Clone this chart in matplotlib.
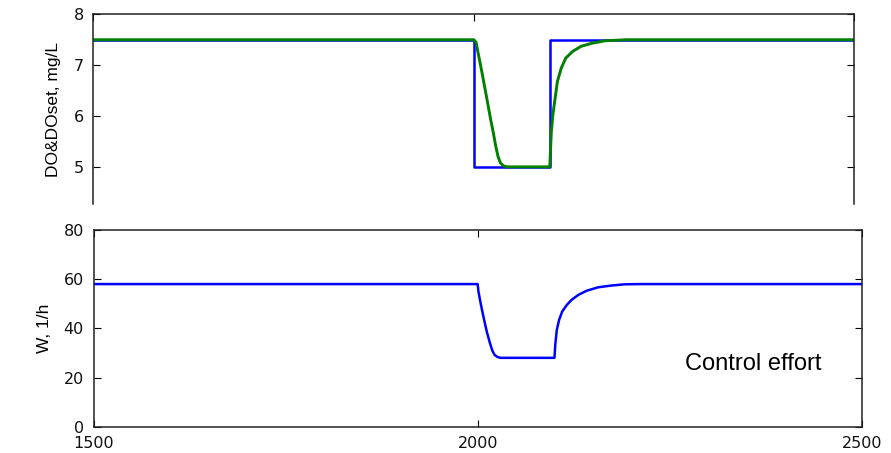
import matplotlib
matplotlib.use("Agg")
import matplotlib.pyplot as plt

# DO set point (blue) and measured DO (green)
t_set = [1500, 2000, 2000, 2100, 2100, 2500]
do_set = [7.5, 7.5, 5.0, 5.0, 7.5, 7.5]

t_do = [1500, 2000, 2003, 2006, 2010, 2014, 2018, 2022, 2026, 2029, 2032, 2035, 2039, 2044,
        2100, 2102, 2104, 2107, 2110, 2115, 2121, 2130, 2141, 2155, 2173, 2200, 2500]
do = [7.5, 7.5, 7.45, 7.22, 6.92, 6.6, 6.28, 5.95, 5.65, 5.4, 5.2, 5.08, 5.02, 5.0,
      5.0, 5.69, 6.02, 6.35, 6.68, 6.94, 7.14, 7.27, 7.37, 7.43, 7.48, 7.5, 7.5]

# aeration control effort
t_w = [1500, 2000, 2001, 2004, 2008, 2012, 2016, 2019, 2022, 2026, 2030,
       2100, 2101, 2103, 2106, 2110, 2116, 2122, 2131, 2142, 2157, 2174, 2191, 2212, 2500]
w = [58, 58, 55, 50, 44, 38.5, 34, 31, 29.2, 28.3, 28,
     28, 33.2, 39.3, 43.4, 46.8, 49.5, 51.5, 53.6, 55.3, 56.7, 57.4, 57.9, 58, 58]

tick_font = {'family': 'DejaVu Sans', 'size': 11.5}
label_font = {'family': 'Liberation Sans', 'size': 12.5}

fig = plt.figure(figsize=(8.91, 4.53), dpi=100)
ax1 = fig.add_axes([0.1049, 0.5497, 0.8536, 0.4187])
ax2 = fig.add_axes([0.1051, 0.0581, 0.8620, 0.4342])

ax1.plot(t_set, do_set, color='#0000ff', lw=1.8)
ax1.plot(t_do, do, color='#008000', lw=2.1)
ax1.set_xlim(1500, 2500)
ax1.set_ylim(4.27, 8)
ax1.set_xticks([1500, 2000, 2500])
ax1.set_yticks([5, 6, 7, 8])
ax1.set_ylabel('DO&DOset, mg/L', fontdict=label_font, labelpad=9)
ax1.spines['bottom'].set_visible(False)
ax1.tick_params(axis='x', bottom=False, labelbottom=False, top=True, direction='in', length=5)

ax2.plot(t_w, w, color='#0000ff', lw=1.8)
ax2.set_xlim(1500, 2500)
ax2.set_ylim(0, 80)
ax2.set_xticks([1500, 2000, 2500])
ax2.set_yticks([0, 20, 40, 60, 80])
ax2.set_ylabel('W, 1/h', fontdict=label_font, labelpad=8)
ax2.text(2270, 23, 'Control effort', family='Liberation Sans', fontsize=17,
         ha='left', va='baseline')
ax2.tick_params(axis='x', top=True, direction='in', length=5, pad=7)

for ax in (ax1, ax2):
    ax.tick_params(axis='y', right=True, direction='in', length=5, pad=7)
    for s in ax.spines.values():
        s.set_color('#222222')
        s.set_linewidth(1.1)
    for lab in ax.get_xticklabels() + ax.get_yticklabels():
        lab.set_fontfamily(tick_font['family'])
        lab.set_fontsize(tick_font['size'])
        lab.set_color('#111111')

fig.savefig('out.png', dpi=100)
